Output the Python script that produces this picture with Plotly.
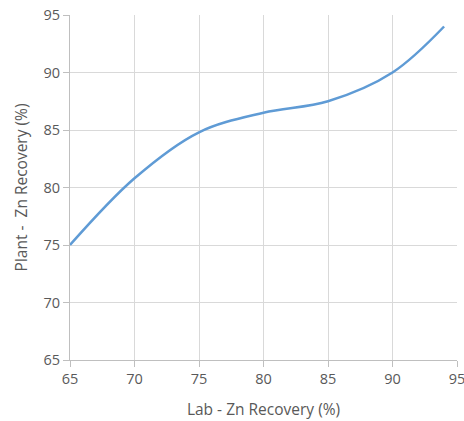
import plotly.graph_objects as go

lab_zn = [65, 70, 75, 80, 85, 90, 94]
plant_zn = [75, 80.8, 84.8, 86.5, 87.5, 90, 94]

x_ticks = [65, 70, 75, 80, 85, 90, 95]
y_ticks = [65, 70, 75, 80, 85, 90, 95]

FONT = "Open Sans"

fig = go.Figure()
fig.add_trace(go.Scatter(
    x=lab_zn, y=plant_zn, mode="lines",
    line=dict(color="#5F9BD5", width=2.5, shape="spline", smoothing=1.0),
    showlegend=False,
))

axis_common = dict(
    showgrid=True, gridcolor="#D9D9D9", gridwidth=1,
    showline=True, linecolor="#BFBFBF", linewidth=1,
    ticks="outside", ticklen=6, tickcolor="#BFBFBF",
    tickfont=dict(family=FONT, size=14.5, color="#595959"),
    zeroline=False, ticklabeloverflow="allow", automargin=False,
)

fig.update_layout(
    width=464, height=421,
    margin=dict(l=70, r=7, t=15, b=61),
    paper_bgcolor="white", plot_bgcolor="white",
    xaxis=dict(range=[65, 95], tickvals=x_ticks, ticktext=[str(v) for v in x_ticks],
               title=dict(text="Lab - Zn Recovery (%)", standoff=16,
                          font=dict(family=FONT, size=15.5, color="#595959")),
               **axis_common),
    yaxis=dict(range=[65, 95], tickvals=y_ticks, ticktext=[str(v) for v in y_ticks],
               title=dict(text="Plant -  Zn Recovery (%)", standoff=12,
                          font=dict(family=FONT, size=15.5, color="#595959")),
               **axis_common),
)

fig.write_html("out.html")
